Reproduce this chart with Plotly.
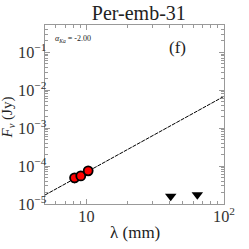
import numpy as np
import plotly.graph_objects as go

title = "Per-emb-31"
alpha_ka = -2.00
det_wav = [8.2, 9.1, 10.3]
det_flux = [4.9e-5, 5.5e-5, 7.5e-5]
det_err = [1.5e-5, 0.5e-5, 0.6e-5]
lim_wav = [41.0, 64.0]
lim_flux = [1.6e-5, 1.75e-5]
fit_wav = [5.0, 100.0]
fit_amp = 6.9e-7  # F = amp * lambda^(-alpha)

fit_flux = [fit_amp * w ** (-alpha_ka) for w in fit_wav]

serif = "Liberation Serif"
fig = go.Figure()
fig.add_trace(go.Scatter(x=fit_wav, y=fit_flux, mode="lines",
                         line=dict(color="black", width=1, dash="4px,1px"),
                         showlegend=False))
fig.add_trace(go.Scatter(x=det_wav, y=det_flux, mode="markers",
                         error_y=dict(type="data", array=det_err, color="#aaaaaa", thickness=1.2, width=0),
                         marker=dict(color="red", size=9, line=dict(color="black", width=1.8)),
                         showlegend=False))
fig.add_trace(go.Scatter(x=lim_wav, y=lim_flux, mode="markers",
                         marker=dict(symbol="triangle-down", color="black", size=10),
                         showlegend=False))

axcommon = dict(type="log", showgrid=False, zeroline=False, showline=True,
                linecolor="#999999", linewidth=1, mirror="ticks",
                ticks="inside", ticklen=5, tickcolor="#999999", automargin=False,
                tickfont=dict(family=serif, size=13, color="#333333"),
                exponentformat="power", showexponent="all")
fig.update_xaxes(range=[np.log10(5), 2], dtick=1, ticklabelstandoff=-2,
                 minor=dict(ticks="inside", ticklen=3, tickcolor="#999999", dtick="D1"),
                 **axcommon)
fig.update_yaxes(range=[-5, -0.28], dtick=1, ticklabelstandoff=-5,
                 minor=dict(ticks="inside", ticklen=3, tickcolor="#999999", dtick="D1"),
                 **axcommon)
fig.update_layout(
    width=249, height=249,
    margin=dict(l=44.5, r=25, t=24.5, b=45, autoexpand=False),
    paper_bgcolor="white", plot_bgcolor="white",
    title=dict(text=title, xref="paper", x=0.524, xanchor="center", y=0.948, yanchor="middle",
               font=dict(family=serif, size=20, color="#222222")),
    annotations=[
        dict(text="<i>α<sub>Ka</sub></i> = %.2f" % alpha_ka, xref="paper", yref="paper",
             x=0.047, y=0.919, xanchor="left", yanchor="middle", showarrow=False,
             font=dict(family=serif, size=8, color="#222222")),
        dict(text="(f)", xref="paper", yref="paper", x=0.738, y=0.875,
             xanchor="center", yanchor="middle", showarrow=False,
             font=dict(family=serif, size=17, color="#222222")),
        dict(text="λ (mm)", xref="paper", yref="paper", x=0.5, y=-0.16,
             xanchor="center", yanchor="middle", showarrow=False,
             font=dict(family=serif, size=17, color="#222222")),
        dict(text="<i>F<sub>ν</sub></i> (Jy)", xref="paper", yref="paper", x=-0.205, y=0.485,
             xanchor="center", yanchor="middle", showarrow=False, textangle=-90,
             font=dict(family=serif, size=15, color="#222222")),
    ],
)
fig.write_html("out.html", config={"displayModeBar": False},
               post_script="document.body.style.margin='0';")
